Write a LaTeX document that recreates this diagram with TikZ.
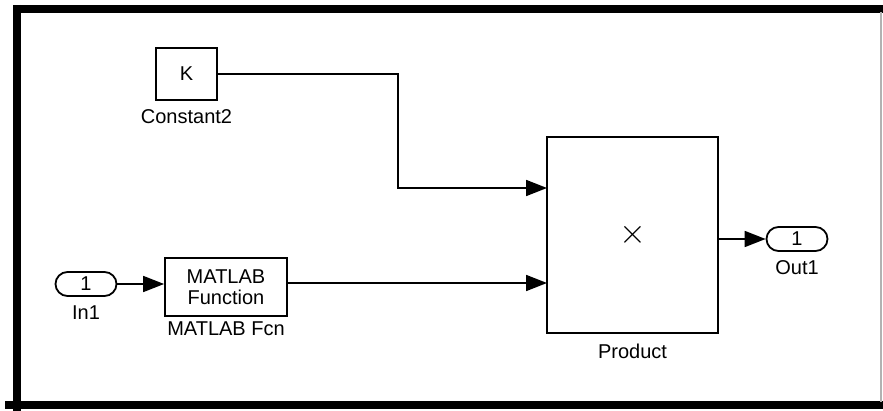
\documentclass[tikz,border=0pt]{standalone}
\usepackage{fontspec}
\setmainfont{Liberation Sans}
\usepackage{tikz}
\usetikzlibrary{shapes,arrows,positioning,calc,arrows.meta}

\begin{document}
\begin{tikzpicture}[x=0.5pt,y=-0.5pt,
    font=\fontsize{10}{11.5}\selectfont,
    block/.style={rectangle, draw, line width=0.9pt, inner sep=0pt, align=center},
    port/.style={rounded rectangle, draw, line width=0.9pt, inner sep=0pt, minimum width=30.5pt, minimum height=12pt},
    tag/.style={inner sep=1pt},
    sig/.style={line width=0.9pt, -{Triangle[length=10.5pt,width=8pt]}}]
    \useasboundingbox (0,0) rectangle (883,411);
    % frame
    \draw[line width=4pt] (13,9) -- (883,9);
    \draw[line width=4pt] (17,5) -- (17,411);
    \draw[line width=4pt] (5,404.5) -- (883,404.5);
    \draw[gray!60, line width=0.6pt] (881,12) -- (881,402);
    % blocks
    \node[block, minimum width=30.5pt, minimum height=26pt] (const) at (186.5,74) {K};
    \node[tag, below=3pt of const] (constlbl) {Constant2};
    \node[port] (inport) at (86,284) {1};
    \node[tag, below=3pt of inport] (inlbl) {In1};
    \node[block, minimum width=61pt, minimum height=29pt] (fcn) at (226,287) {MATLAB\\[-1pt]Function};
    \node[tag, below=1pt of fcn] (fcnlbl) {MATLAB Fcn};
    \node[block, minimum width=85.5pt, minimum height=98pt] (prod) at (632.5,235) {\fontsize{16}{16}\selectfont$\times$};
    \node[tag, below=4pt of prod] (prodlbl) {Product};
    \node[port] (outport) at (797,239) {1};
    \node[tag, below=3pt of outport] (outlbl) {Out1};
    % product inputs
    \coordinate (pin1) at (547,188);
    \coordinate (pin2) at (547,283);
    % signals
    \draw[sig] (const.east) -- ++(180,0) |- (pin1);
    \draw[sig] (fcn.east |- pin2) -- (pin2);
    \draw[sig] (inport.east) -- (fcn.west |- inport.east);
    \draw[sig] (prod.east |- outport) -- (outport.west);
\end{tikzpicture}
\end{document}
